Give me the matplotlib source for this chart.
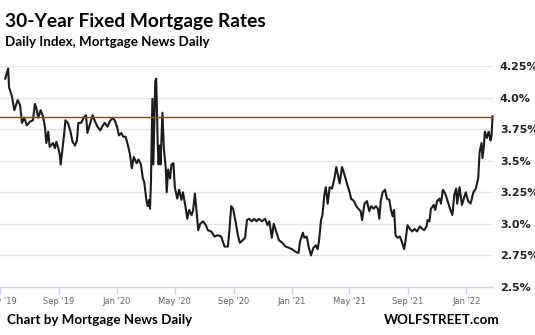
import pandas as pd
import matplotlib
matplotlib.use("Agg")
import matplotlib.pyplot as plt
import matplotlib.dates as mdates

# 30-year fixed rate (date, percent)
dates = [
    "2019-05-12", "2019-05-18", "2019-05-20", "2019-05-26", "2019-05-31", "2019-06-07", "2019-06-12",
    "2019-06-16", "2019-06-21", "2019-06-26", "2019-07-03", "2019-07-09", "2019-07-13", "2019-07-16",
    "2019-07-20", "2019-07-25", "2019-07-30", "2019-08-03", "2019-08-06", "2019-08-10", "2019-08-13",
    "2019-08-20", "2019-08-24", "2019-08-27", "2019-08-31", "2019-09-03", "2019-09-05", "2019-09-08",
    "2019-09-12", "2019-09-15", "2019-09-20", "2019-09-25", "2019-09-30", "2019-10-05", "2019-10-09",
    "2019-10-12", "2019-10-18", "2019-10-23", "2019-10-28", "2019-10-31", "2019-11-06", "2019-11-11",
    "2019-11-16", "2019-11-21", "2019-11-27", "2019-12-01", "2019-12-06", "2019-12-12", "2019-12-17",
    "2019-12-22", "2019-12-27", "2020-01-01", "2020-01-05", "2020-01-10", "2020-01-14", "2020-01-19",
    "2020-01-24", "2020-01-28", "2020-02-01", "2020-02-05", "2020-02-11", "2020-02-15", "2020-02-20",
    "2020-02-24", "2020-02-27", "2020-03-02", "2020-03-05", "2020-03-08", "2020-03-10", "2020-03-12",
    "2020-03-15", "2020-03-17", "2020-03-21", "2020-03-23", "2020-03-26", "2020-03-28", "2020-03-30",
    "2020-04-01", "2020-04-05", "2020-04-08", "2020-04-12", "2020-04-14", "2020-04-17", "2020-04-21",
    "2020-04-24", "2020-04-28", "2020-05-01", "2020-05-06", "2020-05-10", "2020-05-15", "2020-05-18",
    "2020-05-24", "2020-05-27", "2020-05-31", "2020-06-05", "2020-06-08", "2020-06-12", "2020-06-15",
    "2020-06-19", "2020-06-23", "2020-06-29", "2020-07-05", "2020-07-09", "2020-07-16", "2020-07-23",
    "2020-07-30", "2020-08-06", "2020-08-13", "2020-08-20", "2020-08-23", "2020-08-27", "2020-08-31",
    "2020-09-05", "2020-09-10", "2020-09-14", "2020-09-20", "2020-09-25", "2020-09-29", "2020-10-03",
    "2020-10-09", "2020-10-14", "2020-10-19", "2020-10-24", "2020-10-30", "2020-11-06", "2020-11-11",
    "2020-11-15", "2020-11-20", "2020-11-24", "2020-11-29", "2020-12-05", "2020-12-12", "2020-12-19",
    "2020-12-26", "2021-01-01", "2021-01-08", "2021-01-15", "2021-01-18", "2021-01-24", "2021-01-27",
    "2021-02-01", "2021-02-05", "2021-02-10", "2021-02-15", "2021-02-20", "2021-02-24", "2021-02-27",
    "2021-03-03", "2021-03-06", "2021-03-10", "2021-03-13", "2021-03-17", "2021-03-21", "2021-03-26",
    "2021-03-31", "2021-04-04", "2021-04-11", "2021-04-16", "2021-04-21", "2021-04-27", "2021-05-02",
    "2021-05-05", "2021-05-11", "2021-05-16", "2021-05-20", "2021-05-25", "2021-05-28", "2021-06-02",
    "2021-06-07", "2021-06-12", "2021-06-16", "2021-06-21", "2021-06-26", "2021-06-30", "2021-07-03",
    "2021-07-06", "2021-07-10", "2021-07-15", "2021-07-19", "2021-07-24", "2021-07-27", "2021-07-31",
    "2021-08-03", "2021-08-06", "2021-08-10", "2021-08-15", "2021-08-19", "2021-08-24", "2021-08-27",
    "2021-08-31", "2021-09-05", "2021-09-10", "2021-09-15", "2021-09-20", "2021-09-26", "2021-10-01",
    "2021-10-05", "2021-10-10", "2021-10-12", "2021-10-16", "2021-10-19", "2021-10-25", "2021-10-28",
    "2021-11-01", "2021-11-06", "2021-11-09", "2021-11-13", "2021-11-18", "2021-11-23", "2021-11-28",
    "2021-12-03", "2021-12-07", "2021-12-11", "2021-12-13", "2021-12-18", "2021-12-23", "2021-12-27",
    "2021-12-31", "2022-01-05", "2022-01-10", "2022-01-16", "2022-01-21", "2022-01-26", "2022-01-29",
    "2022-02-02", "2022-02-04", "2022-02-07", "2022-02-09", "2022-02-13", "2022-02-17", "2022-02-21",
    "2022-02-23", "2022-02-25",
]
rates = [
    4.15, 4.23, 4.08, 4.01, 3.90, 3.98, 3.94,
    3.80, 3.84, 3.78, 3.81, 3.82, 3.95, 3.92,
    3.84, 3.90, 3.85, 3.77, 3.64, 3.73, 3.61,
    3.64, 3.60, 3.65, 3.60, 3.55, 3.47, 3.57,
    3.70, 3.82, 3.80, 3.74, 3.65, 3.62, 3.66,
    3.80, 3.80, 3.84, 3.86, 3.72, 3.80, 3.86,
    3.81, 3.77, 3.74, 3.77, 3.80, 3.77, 3.81,
    3.84, 3.82, 3.77, 3.70, 3.72, 3.69, 3.69,
    3.62, 3.55, 3.44, 3.53, 3.48, 3.51, 3.47,
    3.36, 3.33, 3.20, 3.14, 3.19, 3.12, 3.33,
    3.99, 3.47, 4.13, 4.15, 3.65, 3.47, 3.62,
    3.47, 3.88, 3.60, 3.44, 3.25, 3.43, 3.36,
    3.47, 3.48, 3.29, 3.20, 3.27, 3.19, 3.25,
    3.12, 3.04, 3.11, 3.07, 3.10, 3.24, 3.12,
    2.95, 3.00, 3.02, 2.99, 2.95, 2.94, 2.90,
    2.91, 2.90, 2.82, 2.82, 2.94, 3.14, 3.12,
    3.02, 2.91, 2.85, 2.87, 2.89, 3.03, 3.04,
    3.02, 3.04, 3.02, 3.04, 3.02, 3.04, 2.99,
    3.02, 2.89, 3.00, 2.94, 2.87, 2.85, 2.82,
    2.81, 2.80, 2.78, 2.77, 2.86, 2.93, 2.89,
    2.90, 2.82, 2.75, 2.81, 2.83, 2.80, 2.87,
    3.03, 3.07, 3.23, 3.29, 3.16, 3.29, 3.28,
    3.36, 3.45, 3.32, 3.45, 3.39, 3.31, 3.25,
    3.20, 3.18, 3.14, 3.12, 3.10, 3.03, 3.16,
    3.18, 3.10, 3.14, 3.12, 3.14, 3.12, 3.04,
    3.18, 3.25, 3.27, 3.20, 3.19, 3.12, 3.06,
    3.11, 2.91, 2.89, 2.90, 2.86, 2.80, 2.87,
    2.99, 2.96, 2.94, 2.96, 2.94, 2.98, 2.96,
    2.95, 2.98, 3.03, 3.02, 3.12, 3.15, 3.11,
    3.18, 3.20, 3.16, 3.27, 3.24, 3.18, 3.12,
    3.07, 3.23, 3.28, 3.16, 3.29, 3.15, 3.20,
    3.25, 3.18, 3.16, 3.25, 3.28, 3.36, 3.57,
    3.64, 3.52, 3.62, 3.73, 3.68, 3.73, 3.66,
    3.70, 3.85,
]
ref_level = 3.85
y_ticks = [2.5, 2.75, 3.0, 3.25, 3.5, 3.75, 4.0, 4.25]
y_labels = ["2.5%", "2.75%", "3.0%", "3.25%", "3.5%", "3.75%", "4.0%", "4.25%"]
x_ticks = ["2019-05-01", "2019-09-01", "2020-01-01", "2020-05-01", "2020-09-01",
           "2021-01-01", "2021-05-01", "2021-09-01", "2022-01-01"]

d = pd.to_datetime(dates)
W, H = 535, 335
fig = plt.figure(figsize=(W / 100, H / 100), dpi=100)
ax = fig.add_axes([0, (H - 287) / H, 493 / W, (287 - 66) / H])

ax.plot(d, rates, color="#1c1c1c", lw=1.5, solid_joinstyle="round", zorder=3, clip_on=False)
ax.axhline(ref_level, color="#e8161c", lw=1.0, zorder=4)

ax.set_xlim(pd.Timestamp("2019-05-12"), pd.Timestamp("2022-02-26"))
ax.set_ylim(2.5, 4.25)
ax.set_yticks(y_ticks)
ax.set_yticklabels(y_labels)
ax.yaxis.tick_right()
ax.tick_params(axis="y", length=0, pad=5, labelsize=8, labelcolor="#222222")
for t in ax.get_yticklabels():
    t.set_fontweight("bold")
ax.grid(axis="y", color="#e6e6e6", lw=1.0)
ax.set_axisbelow(True)

ax.set_xticks(pd.to_datetime(x_ticks))
ax.xaxis.set_major_formatter(mdates.DateFormatter("%b '%y"))
ax.tick_params(axis="x", length=5, width=1, color="#ccd6eb", labelsize=6, labelcolor="#666666", pad=2)

for s in ["top", "right", "left"]:
    ax.spines[s].set_visible(False)
ax.spines["bottom"].set_color("#ccd6eb")
ax.spines["bottom"].set_linewidth(1.0)

fig.text(5 / W, 1 - 26.5 / H, "30-Year Fixed Mortgage Rates", family="Lato", weight="bold",
         fontsize=13.8, va="baseline", ha="left")
fig.text(5 / W, 1 - 46 / H, "Daily Index, Mortgage News Daily", family="Lato", weight="bold",
         fontsize=9.6, va="baseline", ha="left")
fig.text(7 / W, 1 - 324 / H, "Chart by Mortgage News Daily", family="Lato", weight="bold",
         fontsize=9.6, va="baseline", ha="left")
fig.text(500 / W, 1 - 323.5 / H, "WOLFSTREET.com", family="Lato", weight="bold",
         fontsize=9.6, va="baseline", ha="right")

fig.savefig("out.png", dpi=100)
